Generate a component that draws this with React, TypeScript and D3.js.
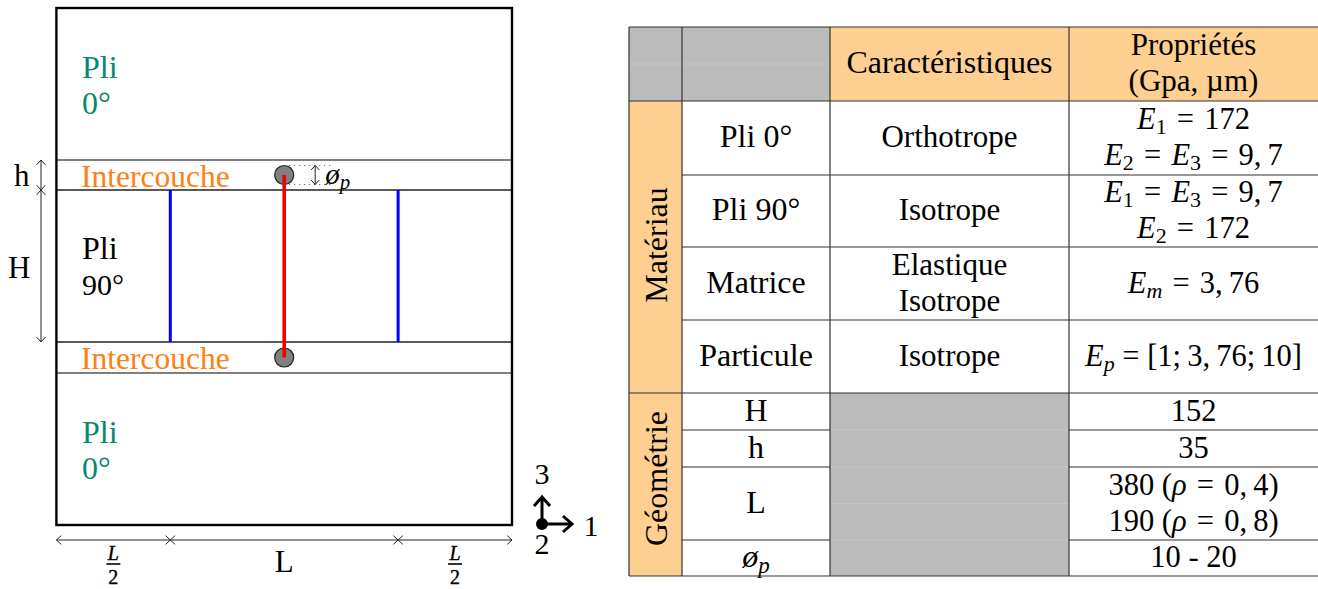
import React from "react";
import * as d3 from "d3";

type Seg = { t: string; i?: boolean; sub?: boolean };
type Rich = Seg[];
const R = (t: string): Seg => ({ t });
const I = (t: string): Seg => ({ t, i: true });
const S = (t: string, i = false): Seg => ({ t, sub: true, i });
const EQ = " \u200a=\u200a ";

// Left diagram: layers and spans (diagram units)
const layerNames = ["Pli", "Intercouche", "Pli", "Intercouche", "Pli"];
const layerSubs = ["0°", "", "90°", "", "0°"];
const layerThickness = [152, 30, 152, 31, 152];
const spanLabels = ["L/2", "L", "L/2"];
const spanWidths = [114, 228, 114];
const TEAL = "#08876f";
const ORANGE = "#ff7f12";
const layerColors = [TEAL, ORANGE, "#000", ORANGE, TEAL];

// Table
const columnWidths = [53, 148, 239, 249];
const rowHeights = [74, 74, 72, 73, 73, 37, 37, 73, 36];
const headerCells = ["Caractéristiques"];
const headerProps = ["Propriétés", "(Gpa, µm)"];
const groupNames = ["Matériau", "Géométrie"];
const groupRows = [[1, 5], [5, 9]];
const rowNames: Rich[] = [[R("Pli 0°")], [R("Pli 90°")], [R("Matrice")], [R("Particule")], [R("H")], [R("h")], [R("L")], [I("ø"), S("p", true)]];
const rowTraits: string[][] = [["Orthotrope"], ["Isotrope"], ["Elastique", "Isotrope"], ["Isotrope"], [], [], [], []];
const rowProps: Rich[][] = [
  [[I("E"), S("1"), R(EQ + "172")], [I("E"), S("2"), R(EQ), I("E"), S("3"), R(EQ + "9,\u20097")]],
  [[I("E"), S("1"), R(EQ), I("E"), S("3"), R(EQ + "9,\u20097")], [I("E"), S("2"), R(EQ + "172")]],
  [[I("E"), S("m", true), R(EQ + "3,\u200976")]],
  [[I("E"), S("p", true), R(" = [1;\u20093,\u200976;\u200910]")]],
  [[R("152")]],
  [[R("35")]],
  [[R("380 ("), I("ρ"), R(EQ + "0,\u20094)")], [R("190 ("), I("ρ"), R(EQ + "0,\u20098)")]],
  [[R("10 - 20")]],
];

const FONT = "'Liberation Serif', serif";
const GREY = "#bbbbbb";
const PEACH = "#fdcf90";
const LINE = "#333";

const cum = (a: number[]) => a.reduce<number[]>((acc, v) => [...acc, acc[acc.length - 1] + v], [0]);

// scales
const layerY = cum(layerThickness);
const spanX = cum(spanWidths);
const dy = d3.scaleLinear().domain([0, d3.sum(layerThickness)]).range([8, 525]);
const dx = d3.scaleLinear().domain([0, d3.sum(spanWidths)]).range([56.4, 512]);
const colX = cum(columnWidths);
const rowY = cum(rowHeights);
const tx = d3.scaleLinear().domain([0, d3.sum(columnWidths)]).range([629, 1318]);
const ty = d3.scaleLinear().domain([0, d3.sum(rowHeights)]).range([27, 576]);

function RichText({ segs, x, y, size = 32, anchor = "middle", fill = "#000" }: { segs: Rich; x: number; y: number; size?: number; anchor?: string; fill?: string }) {
  const parts: React.ReactNode[] = [];
  let shifted = false;
  segs.forEach((s, k) => {
    let d = 0;
    if (s.sub && !shifted) { d = size * 0.18; shifted = true; }
    else if (!s.sub && shifted) { d = -size * 0.18; shifted = false; }
    parts.push(
      <tspan key={k} dy={d} fontStyle={s.i ? "italic" : "normal"} fontSize={s.sub ? size * 0.72 : size}>{s.t}</tspan>
    );
  });
  return <text x={x} y={y} textAnchor={anchor} fontFamily={FONT} fontSize={size} fill={fill} xmlSpace="preserve">{parts}</text>;
}

function DoubleArrow({ x1, y1, x2, y2, h = 6.5 }: { x1: number; y1: number; x2: number; y2: number; h?: number }) {
  const a = Math.atan2(y2 - y1, x2 - x1);
  const head = (px: number, py: number, ang: number) => {
    const p = d3.path();
    p.moveTo(px + h * Math.cos(ang + 2.4), py + h * Math.sin(ang + 2.4));
    p.lineTo(px, py);
    p.lineTo(px + h * Math.cos(ang - 2.4), py + h * Math.sin(ang - 2.4));
    return p.toString();
  };
  return (
    <g fill="none" stroke="#222" strokeWidth={1}>
      <line x1={x1} y1={y1} x2={x2} y2={y2} />
      <path d={head(x2, y2, a)} />
      <path d={head(x1, y1, a + Math.PI)} />
    </g>
  );
}

function Diagram() {
  const cx = dx(spanX[1] + spanWidths[1] / 2);
  const topC = dy(layerY[1] + layerThickness[1] / 2);
  const botC = dy(layerY[3] + layerThickness[3] / 2);
  const hw = 9.5;
  return (
    <g>
      {layerY.slice(1, -1).map((v, i) => (
        <line key={i} x1={dx(0)} x2={dx(456)} y1={dy(v)} y2={dy(v)} stroke={i % 3 === 0 ? "#555" : "#222"} strokeWidth={1.3} />
      ))}
      {[spanX[1], spanX[2]].map((v, i) => (
        <line key={i} x1={dx(v)} x2={dx(v)} y1={dy(layerY[2])} y2={dy(layerY[3])} stroke="#0000ff" strokeWidth={3} />
      ))}
      {[topC, botC].map((c, i) => (
        <circle key={i} cx={cx} cy={c} r={hw} fill="#808080" stroke="#222" strokeWidth={1.2} />
      ))}
      <line x1={cx} x2={cx} y1={topC} y2={botC} stroke="#f00000" strokeWidth={3.6} />
      <rect x={dx(0)} y={dy(0)} width={dx(456) - dx(0)} height={dy(517) - dy(0)} fill="none" stroke="#000" strokeWidth={2.4} />
      {[topC - hw, topC + hw].map((y, i) => (
        <line key={i} x1={cx} x2={cx + 46} y1={y} y2={y} stroke="#555" strokeWidth={1} strokeDasharray="1 4" />
      ))}
      <DoubleArrow x1={cx + 31} x2={cx + 31} y1={topC - hw} y2={topC + hw} h={6} />
      <RichText segs={[I("ø"), S("p", true)]} x={cx + 41} y={184} size={29} anchor="start" />
      {layerNames.map((n, i) => {
        const c = layerColors[i];
        if (n === "Intercouche") {
          return <text key={i} x={81} y={dy(layerY[i] + layerThickness[i] / 2) + 11.5} fontFamily={FONT} fontSize={31.5} fill={c}>{n}</text>;
        }
        const top = i === 2 ? dy(layerY[i]) + 69 : i === 0 ? 77.5 : 442.5;
        return (
          <g key={i} fontFamily={FONT} fontSize={32} fill={c}>
            <text x={82} y={top}>{n}</text>
            <text x={82} y={top + 36} fontSize={i === 2 ? 30 : 32}>{layerSubs[i]}</text>
          </g>
        );
      })}
      <DoubleArrow x1={41} x2={41} y1={dy(layerY[1])} y2={dy(layerY[2])} />
      <DoubleArrow x1={41} x2={41} y1={dy(layerY[2])} y2={dy(layerY[3])} />
      <text x={14} y={186} fontFamily={FONT} fontSize={31}>h</text>
      <text x={8} y={278} fontFamily={FONT} fontSize={31}>H</text>
      {spanLabels.map((l, i) => {
        const a = dx(spanX[i]);
        const b = dx(spanX[i + 1]);
        const m = (a + b) / 2;
        return (
          <g key={i}>
            <DoubleArrow x1={a} x2={b} y1={540} y2={540} />
            {l === "L" ? (
              <text x={m} y={572} textAnchor="middle" fontFamily={FONT} fontSize={31}>L</text>
            ) : (
              <g fontFamily={FONT} fontSize={20} textAnchor="middle" stroke="#000" strokeWidth={0.4}>
                <text x={m} y={560} fontStyle="italic">L</text>
                <line x1={m - 7} x2={m + 7} y1={564} y2={564} stroke="#000" strokeWidth={1.6} />
                <text x={m} y={584}>2</text>
              </g>
            )}
          </g>
        );
      })}
      <g fill="none" stroke="#000" strokeWidth={3}>
        <line x1={542} x2={542} y1={524} y2={498} />
        <path d="M534,506 L542,497 L550,506" />
        <line x1={542} x2={571} y1={524} y2={524} />
        <path d="M563,516 L572,524 L563,532" />
      </g>
      <circle cx={542} cy={524} r={6} fill="#000" />
      <g fontFamily={FONT} fontSize={30} textAnchor="middle">
        <text x={542} y={484}>3</text>
        <text x={591} y={536}>1</text>
        <text x={542} y={554}>2</text>
      </g>
    </g>
  );
}

function Table() {
  const X = (i: number) => tx(colX[i]);
  const Y = (i: number) => ty(rowY[i]);
  const mid = (i: number) => (X(i) + X(i + 1)) / 2;
  const midY = (i: number) => (Y(i) + Y(i + 1)) / 2;
  const SIZE = 32;
  const MATH = 30.5;
  const lh = 36;
  const block = (lines: number, k: number, c: number) => c - ((lines - 1) * lh) / 2 + k * lh + 9;
  const groupShift = [-2, -6];
  return (
    <g>
      <rect x={X(0)} y={Y(0)} width={X(2) - X(0)} height={Y(1) - Y(0)} fill={GREY} />
      <rect x={X(2)} y={Y(0)} width={X(4) - X(2)} height={Y(1) - Y(0)} fill={PEACH} />
      <rect x={X(0)} y={Y(1)} width={X(1) - X(0)} height={Y(9) - Y(1)} fill={PEACH} />
      <rect x={X(2)} y={Y(5)} width={X(3) - X(2)} height={Y(9) - Y(5)} fill={GREY} />
      <g stroke="#c8c8c8" strokeWidth={0.8}>
        <line x1={X(0)} x2={X(2)} y1={midY(0)} y2={midY(0)} />
        {[6, 7, 8].map((r) => <line key={r} x1={X(2)} x2={X(3)} y1={Y(r)} y2={Y(r)} />)}
        <line x1={X(2)} x2={X(3)} y1={midY(7)} y2={midY(7)} />
      </g>
      <g stroke={LINE} strokeWidth={1.2}>
        {[0, 1, 2, 3, 4, 5, 6, 7, 8, 9].map((r) => {
          const inner = r >= 2 && r <= 8 && r !== 5;
          const greyCol = r > 5 && r < 9;
          if (inner) {
            return (
              <g key={r}>
                <line x1={X(1)} x2={X(2)} y1={Y(r)} y2={Y(r)} />
                {!greyCol && <line x1={X(2)} x2={X(3)} y1={Y(r)} y2={Y(r)} />}
                <line x1={X(3)} x2={X(4)} y1={Y(r)} y2={Y(r)} />
              </g>
            );
          }
          return <line key={r} x1={X(0)} x2={X(4)} y1={Y(r)} y2={Y(r)} />;
        })}
        {[0, 1, 2, 3].map((c) => <line key={c} x1={X(c)} x2={X(c)} y1={Y(0)} y2={Y(9)} />)}
      </g>
      <text x={mid(2)} y={midY(0) + 9} textAnchor="middle" fontFamily={FONT} fontSize={SIZE}>{headerCells[0]}</text>
      {headerProps.map((t, k) => (
        <text key={k} x={mid(3)} y={block(2, k, midY(0))} textAnchor="middle" fontFamily={FONT} fontSize={MATH + 0.5}>{t}</text>
      ))}
      {groupNames.map((g, k) => {
        const c = (Y(groupRows[k][0]) + Y(groupRows[k][1])) / 2 + groupShift[k];
        return (
          <text key={g} transform={`translate(${mid(0) + 11},${c}) rotate(-90)`} textAnchor="middle" fontFamily={FONT} fontSize={SIZE}>{g}</text>
        );
      })}
      {rowNames.map((n, i) => (
        <g key={i}>
          <RichText segs={n} x={mid(1)} y={midY(i + 1) + 9} size={SIZE} />
          {rowTraits[i].map((t, k) => (
            <text key={k} x={mid(2)} y={block(rowTraits[i].length, k, midY(i + 1))} textAnchor="middle" fontFamily={FONT} fontSize={MATH + 0.5}>{t}</text>
          ))}
          {rowProps[i].map((p, k) => (
            <RichText key={k} segs={p} x={mid(3)} y={block(rowProps[i].length, k, midY(i + 1))} size={MATH} />
          ))}
        </g>
      ))}
    </g>
  );
}

export default function App() {
  return (
    <svg width={1318} height={589} viewBox="0 0 1318 589" style={{ position: "absolute", left: 0, top: 0, display: "block", background: "#fff" }}>
      <Diagram />
      <Table />
    </svg>
  );
}
